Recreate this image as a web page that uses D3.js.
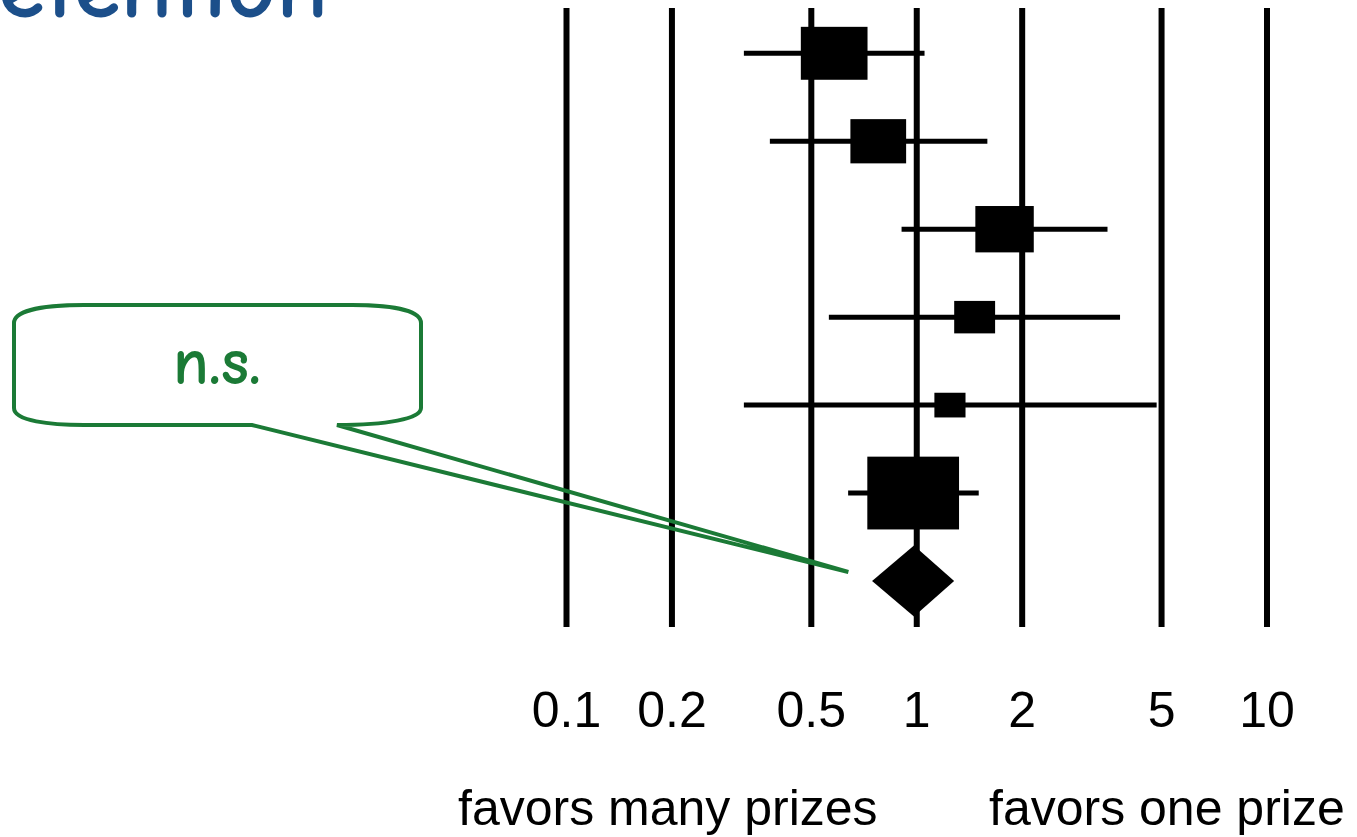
<!DOCTYPE html>
<html>
<head>
<meta charset="utf-8">
<script src="https://cdn.jsdelivr.net/npm/d3@7"></script>
<style>
  body { margin: 0; background: #fff; }
  svg { display: block; }
  .tick text { font-family: "Liberation Sans", Arial, sans-serif; }
</style>
</head>
<body>
<svg id="svg" width="1357" height="837"></svg>
<script>
// studies, top to bottom (labels are not shown in the picture)
var studies = ["study1", "study2", "study3", "study4", "study5", "study6"];
var estimate = [0.583, 0.779, 1.787, 1.468, 1.248, 0.98];
var lower = [0.322, 0.382, 0.908, 0.563, 0.322, 0.639];
var upper = [1.056, 1.596, 3.516, 3.818, 4.857, 1.508];
var weight = [20.2, 14.1, 15.5, 7.6, 4.4, 38.2]; // % weight -> box area
// pooled estimate: lower, estimate, upper
var pooled = [0.748, 0.985, 1.283];
var tickValues = [0.1, 0.2, 0.5, 1, 2, 5, 10];
var leftLabel = "favors many prizes",
  rightLabel = "favors one prize";

var svg = d3.select("#svg"),
  lineTop = 8,
  lineBottom = 627,
  green = "#1b7a36",
  blue = "#1c4f8a",
  comic = '"Comic Sans MS", "Comic Neue", "DejaVu Sans", sans-serif';

var x = d3.scaleLog().domain([0.1, 10]).range([566, 1266.5]);
var y = d3
  .scalePoint()
  .domain(studies.concat(["pooled"]))
  .range([53.3, 581]);
var boxW = d3.scaleSqrt().domain([0, 100]).range([0, 148.4]);

// title, cut off by the top-left corner: only "etention" shows
var title = svg
  .append("text")
  .attr("y", 17)
  .style("font-family", comic)
  .style("font-weight", "bold")
  .style("font-size", "78px")
  .attr("fill", blue)
  .text("Retention");
var tnode = title.node();
var tail = tnode.getSubStringLength(1, 8);
var fs = 78 * 330 / tail;
title.style("font-size", fs + "px");
var rw = tnode.getSubStringLength(0, 1);
title.attr("x", -rw - 2);

// vertical reference lines + tick labels
var axis = svg
  .append("g")
  .attr("transform", "translate(0," + lineBottom + ")")
  .call(
    d3
      .axisBottom(x)
      .tickValues(tickValues)
      .tickFormat(d3.format("~g"))
      .tickSizeInner(-(lineBottom - lineTop))
      .tickSizeOuter(0)
  );
axis.select(".domain").remove();
axis.selectAll(".tick line").attr("stroke", "#000").attr("stroke-width", 6);
axis
  .selectAll(".tick text")
  .attr("y", 99.7)
  .attr("dy", 0)
  .attr("fill", "#000")
  .style("font-size", "50px");

// confidence intervals
var rows = studies.map(function (s, i) {
  return { id: s, est: estimate[i], lo: lower[i], hi: upper[i], w: weight[i] };
});
svg
  .append("g")
  .selectAll("line")
  .data(rows)
  .join("line")
  .attr("x1", function (d) { return x(d.lo); })
  .attr("x2", function (d) { return x(d.hi); })
  .attr("y1", function (d) { return y(d.id); })
  .attr("y2", function (d) { return y(d.id); })
  .attr("stroke", "#000")
  .attr("stroke-width", 5);

// boxes (area ~ weight; picture is stretched horizontally)
svg
  .append("g")
  .selectAll("rect")
  .data(rows)
  .join("rect")
  .attr("x", function (d) { return x(d.est) - boxW(d.w) / 2; })
  .attr("y", function (d) { return y(d.id) - boxW(d.w) / 1.26 / 2; })
  .attr("width", function (d) { return boxW(d.w); })
  .attr("height", function (d) { return boxW(d.w) / 1.26; })
  .attr("fill", "#000");

// pooled diamond
var cy = y("pooled"),
  dh = 35.5;
svg
  .append("path")
  .attr(
    "d",
    d3.line()([
      [x(pooled[0]), cy],
      [x(pooled[1]), cy - dh],
      [x(pooled[2]), cy],
      [x(pooled[1]), cy + dh]
    ]) + "Z"
  )
  .attr("fill", "#000");

// bottom labels
svg
  .append("g")
  .style("font-family", '"Liberation Sans", Arial, sans-serif')
  .style("font-size", "50px")
  .selectAll("text")
  .data([[458, leftLabel], [989, rightLabel]])
  .join("text")
  .attr("x", function (d) { return d[0]; })
  .attr("y", 825)
  .text(function (d) { return d[1]; });

// "n.s." callout pointing at the pooled diamond
var tipX = x(0.64),
  tipY = cy - 9;
var bubble =
  "M14,323 C14,309 50,305 84,305 L352,305 C386,305 421,309 421,323 " +
  "L421,408 C421,419 386,425 337,425 L" + tipX + "," + tipY +
  " L252,425 L84,425 C50,425 14,421 14,408 Z";
svg
  .append("path")
  .attr("d", bubble)
  .attr("fill", "none")
  .attr("stroke", green)
  .attr("stroke-width", 4)
  .attr("stroke-linejoin", "miter");
svg
  .append("text")
  .attr("x", 217)
  .attr("y", 384)
  .attr("text-anchor", "middle")
  .style("font-family", comic)
  .style("font-weight", "bold")
  .style("font-size", "66px")
  .attr("fill", green)
  .text("n.s.");
</script>
</body>
</html>
